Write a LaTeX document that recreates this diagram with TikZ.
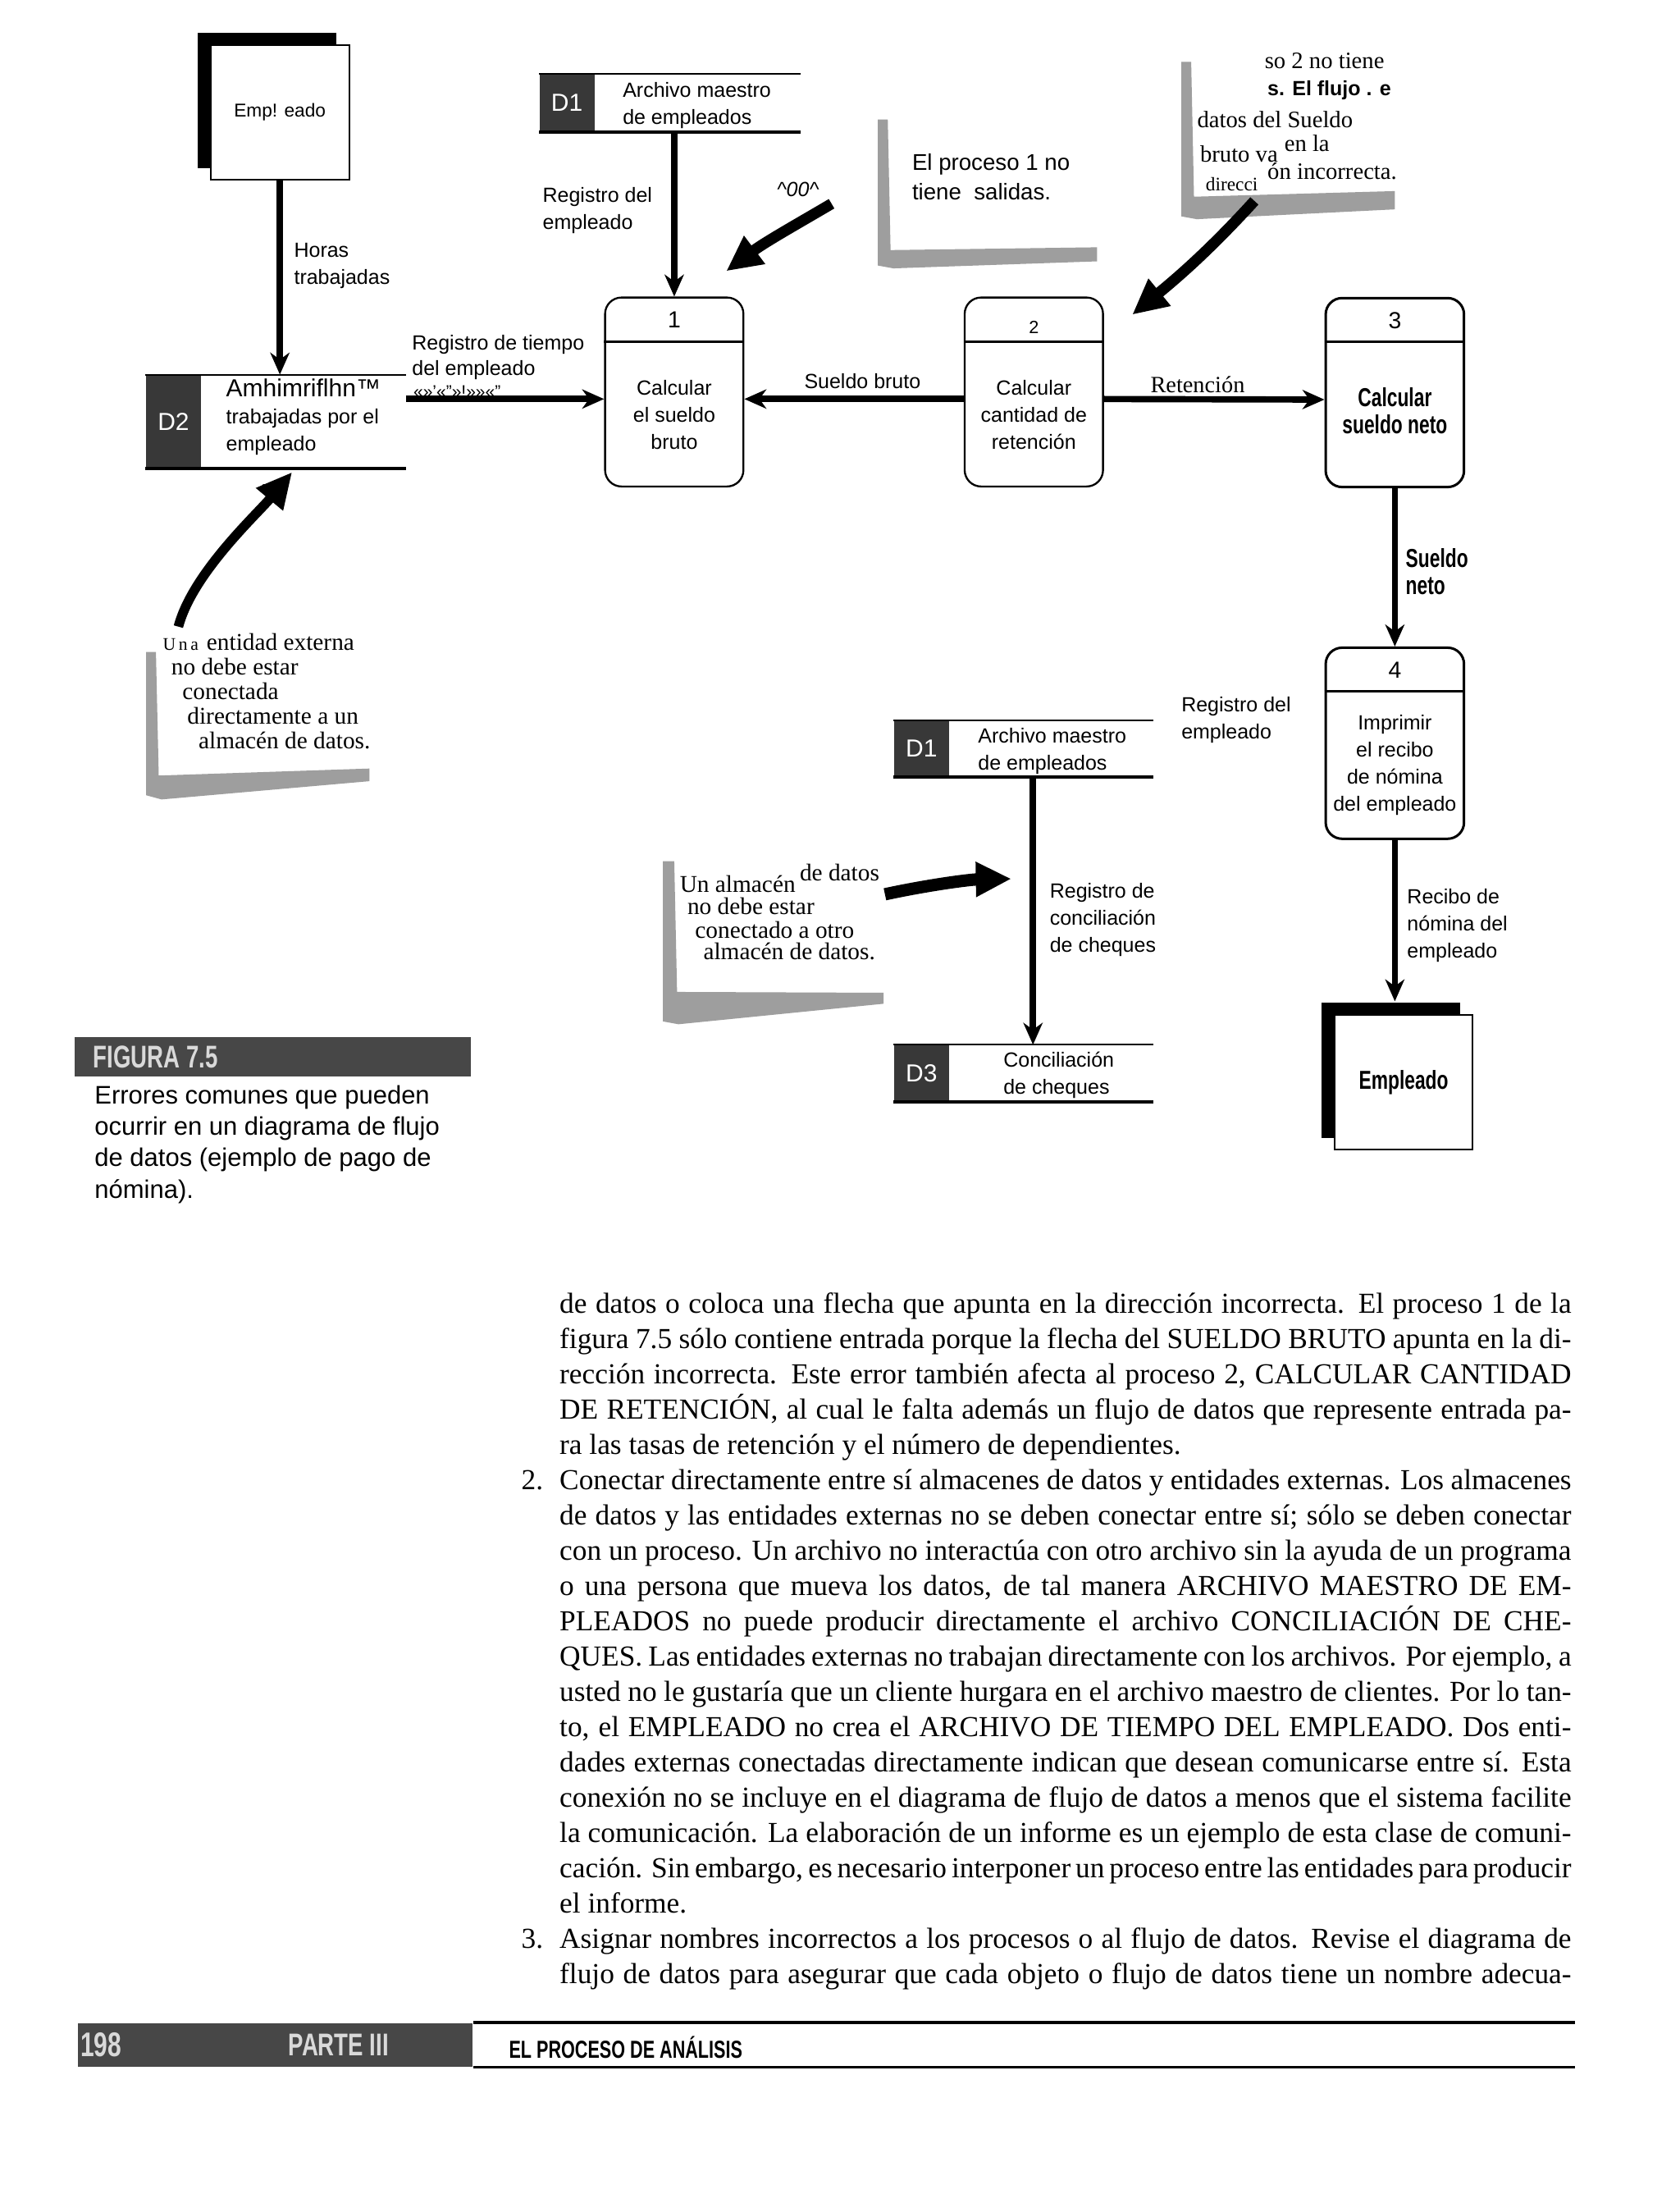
\documentclass[tikz,border=0pt]{standalone}
\usepackage{fontspec}
\setmainfont{Liberation Serif}
\setsansfont{Liberation Sans}
\newfontfamily\condsans[FakeStretch=0.72]{Liberation Sans}
\usetikzlibrary{arrows.meta, positioning, calc, shadows}

\newlength{\px}
\setlength{\px}{0.5137pt}
\newcommand{\jline}[1]{\hbox to 370pt{#1}}
\newcommand{\pline}[1]{\hbox{#1}}

\begin{document}
\begin{tikzpicture}[
    x=0.5137pt, y=-0.5137pt,
    flow/.style={line width=2.3pt, -{Stealth[length=8pt, width=7pt, inset=2.5pt]}},
    pointer/.style={line width=#1, -{Triangle[length=13pt, width=12pt]}},
    pointer/.default=4pt,
    entity/.style={draw, line width=0.6pt, fill=white, minimum width=98.5\px, minimum height=96\px, inner sep=0pt,
        general shadow={fill=black, shadow xshift=-9\px, shadow yshift=8.5\px}},
    proc/.style={draw, line width=0.7pt, rounded corners=6pt, minimum width=98.5\px, minimum height=134.5\px, inner sep=0pt},
    procnum/.style={font=\sffamily\fontsize{8.5}{8.5}\selectfont, inner sep=0pt},
    proctxt/.style={font=\sffamily\fontsize{7.5}{9.9}\selectfont, align=center, inner sep=0pt},
    storeid/.style={fill=black!78, text=white, font=\sffamily\fontsize{9}{9}\selectfont, minimum width=39\px, inner sep=0pt},
    storeline/.style={line width=0.6pt},
    storebase/.style={line width=1.3pt},
    lbl/.style={font=\sffamily\fontsize{7.5}{9.9}\selectfont, align=left, inner sep=0pt},
    boldlbl/.style={font=\condsans\bfseries\fontsize{9.5}{9.9}\selectfont, align=center, inner sep=0pt},
    note/.style={font=\fontsize{8.8}{8.8}\selectfont, anchor=base west, inner sep=0pt},
    halftone/.style={fill=black!38},
    bar/.style={fill=black!72, inner sep=0pt, anchor=north west},
    bartxt/.style={font=\condsans\bfseries\fontsize{11.5}{11.5}\selectfont, text=white!85!black, anchor=west, inner sep=0pt},
]

\path[use as bounding box, fill=white] (0,0) rectangle (1196,1568);

% ========== ENTITIES ==========
\node[entity] (emp1) at (199.25,80) {\sffamily\fontsize{6.8}{6.8}\selectfont Emp! eado};
\node[entity] (emp2) at (999.25,770.25) {\condsans\bfseries\fontsize{9.5}{9.5}\selectfont Empleado};

% ========== DATA STORES ==========
\node[storeid, minimum height=66\px] (d2id) at (123.5,300) {D2};
\coordinate (d2end) at (289,0);
\draw[storeline] (d2id.north west) -- (d2id.north west -| d2end);
\draw[storebase] (d2id.south west) -- (d2id.south west -| d2end);
\node[lbl, anchor=west] (d2txt) at (160.6,297) {{\fontsize{9}{9.9}\selectfont Amhimriflhn™}\\trabajadas por el\\empleado};
\node[font=\sffamily\bfseries\fontsize{6.5}{6.5}\selectfont, inner sep=0pt] (d2junk) at (194,346) {«ai};

\node[storeid, minimum height=40.5\px] (d1tid) at (403.6,73.25) {D1};
\coordinate (d1tend) at (570,0);
\draw[storeline] (d1tid.north west) -- (d1tid.north west -| d1tend);
\draw[storebase] (d1tid.south west) -- (d1tid.south west -| d1tend);
\node[lbl, anchor=west] (d1ttxt) at (443,75.3) {Archivo maestro\\de empleados};

\node[storeid, minimum height=39.5\px] (d1bid) at (656,532.75) {D1};
\coordinate (d1bend) at (821,0);
\draw[storeline] (d1bid.north west) -- (d1bid.north west -| d1bend);
\draw[storebase] (d1bid.south west) -- (d1bid.south west -| d1bend);
\node[lbl, anchor=west] (d1btxt) at (696,534.8) {Archivo maestro\\de empleados};

\node[storeid, minimum height=40\px] (d3id) at (656,764) {D3};
\draw[storeline] (d3id.north west) -- (d3id.north west -| d1bend);
\draw[storebase] (d3id.south west) -- (d3id.south west -| d1bend);
\node[lbl, anchor=west] (d3txt) at (714,765.5) {Conciliación\\de cheques};

% ========== PROCESSES ==========
\node[proc] (p1) at (480,279) {};
\draw[line width=0.9pt] ([yshift=-32\px]p1.north west) -- ([yshift=-32\px]p1.north east);
\node[procnum] (p1num) at ([yshift=-16.5\px]p1.north) {1};
\node[proctxt] (p1txt) at ([yshift=-16.4\px]p1.center) {Calcular\\el sueldo\\bruto};

\node[proc] (p2) at (736,279) {};
\draw[line width=0.9pt] ([yshift=-32\px]p2.north west) -- ([yshift=-32\px]p2.north east);
\node[procnum, font=\sffamily\fontsize{6.5}{6.5}\selectfont] (p2num) at ([yshift=-22\px]p2.north) {2};
\node[proctxt] (p2txt) at ([yshift=-16\px]p2.center) {Calcular\\cantidad de\\retención};

\node[proc, line width=0.9pt] (p3) at (993,279.4) {};
\draw[line width=1pt] ([yshift=-32\px]p3.north west) -- ([yshift=-32\px]p3.north east);
\node[procnum] (p3num) at ([yshift=-17\px]p3.north) {3};
\node[boldlbl] (p3txt) at ([yshift=-13.2\px]p3.center) {Calcular\\sueldo neto};

\node[proc, line width=0.9pt, minimum height=136\px] (p4) at (993,529) {};
\draw[line width=1pt] ([yshift=-32\px]p4.north west) -- ([yshift=-32\px]p4.north east);
\node[procnum] (p4num) at ([yshift=-17\px]p4.north) {4};
\node[proctxt] (p4txt) at ([yshift=-15.4\px]p4.center) {Imprimir\\el recibo\\de nómina\\del empleado};

% ========== DATA FLOWS ==========
\draw[flow] (emp1.south) -- (emp1.south |- d2id.north);
\node[lbl, anchor=west] (lhoras) at (209,189) {Horas\\trabajadas};

\draw[flow] ([yshift=-5\px]p1.west -| d2end) -- ([yshift=-5\px]p1.west);
\node[lbl, anchor=west, font=\sffamily\fontsize{7.5}{9.2}\selectfont] (ltiempo) at (293,254.5) {Registro de tiempo\\del empleado};
\node[lbl, anchor=west, font=\sffamily\fontsize{6.3}{6.3}\selectfont] (ljunk) at (294,278.5) {«»'«"»!»»«"};

\draw[flow] (p1.north |- d1tid.south) -- (p1.north);
\node[lbl, anchor=west] (lregemp) at (386,150) {Registro del\\empleado};

\draw[flow] ([yshift=-5\px]p2.west) -- ([yshift=-5\px]p1.east);
\node[lbl] (lbruto) at (614,271) {Sueldo bruto};

\draw[flow] ([yshift=-5\px]p2.east) -- ([yshift=-5\px]p3.west);
\node[font=\fontsize{8.5}{8.5}\selectfont, inner sep=0pt] (lret) at (852.6,273.5) {Retención};

\draw[flow] (p3.south) -- (p4.north);
\node[boldlbl, align=left, anchor=west] (lneto) at (1000.4,407) {Sueldo\\neto};

\node[lbl, anchor=west] (lregemp2) at (840.7,512.5) {Registro del\\empleado};

\draw[flow] (p4.south) -- ($(p4.south |- emp2.north)+(0,-9)$);
\node[lbl, anchor=west] (lrecibo) at (1001.4,658.5) {Recibo de\\nómina del\\empleado};

\draw[flow] ([xshift=59.5\px]d1bid.south east) -- ([xshift=59.5\px]d3id.north east);
\node[lbl, anchor=west] (lconc) at (747,654.7) {Registro de\\conciliación\\de cheques};

% ========== NOTE CARDS ==========
\fill[halftone] (104,464) -- (111,464) -- (113,552) -- (263,547) -- (263,556) -- (115,569) -- (104,566) -- cycle;
\node[note] (n1a) at (115.6,463) {{\fontsize{6.5}{6.5}\selectfont U\,n\,a}\hspace{3pt}entidad externa};
\node[note] (n1b) at (121.6,480.6) {no debe estar};
\node[note] (n1c) at (129.5,498) {conectada};
\node[note] (n1d) at (133,515.6) {directamente a un};
\node[note] (n1e) at (141,533) {almacén de datos.};
\draw[pointer=3.5pt] (127,446) .. controls (137,408) and (183,366) .. (208,336);

\fill[halftone] (625,85) -- (632,85) -- (634,178) -- (781,176) -- (781,186) -- (636,191) -- (625,189) -- cycle;
\node[note, font=\sffamily\fontsize{8.3}{8.3}\selectfont] (n2a) at (649,121) {El proceso 1 no};
\node[note, font=\sffamily\fontsize{8.3}{8.3}\selectfont] (n2b) at (649,142) {tiene\ \ salidas.};
\node[font=\sffamily\itshape\fontsize{7.5}{7.5}\selectfont, inner sep=0pt] (n2junk) at (568,135) {\textasciicircum 00\textasciicircum};
\draw[pointer] (592,145) .. controls (570,158) and (545,172) .. (517,193);

\fill[halftone] (841,44) -- (848,44) -- (850,140) -- (993,136) -- (993,149) -- (852,156) -- (841,154) -- cycle;
\node[note, font=\fontsize{8.6}{8.6}\selectfont] (n3a) at (900,48.6) {so 2 no tiene};
\node[note, font=\sffamily\bfseries\fontsize{7.5}{7.5}\selectfont] (n3b) at (902,68) {s. El flujo . e};
\node[note, font=\fontsize{8.6}{8.6}\selectfont] (n3c) at (852,91) {datos del Sueldo};
\node[note, font=\fontsize{8.6}{8.6}\selectfont] (n3d) at (854,115.4) {bruto va};
\node[note, font=\fontsize{8.6}{8.6}\selectfont] (n3e) at (914,107.5) {en la};
\node[note, font=\fontsize{7}{7}\selectfont] (n3f) at (858,135.5) {direcci};
\node[note, font=\fontsize{8.6}{8.6}\selectfont] (n3g) at (902,127.8) {ón incorrecta.};
\draw[pointer] (893,143) .. controls (872,166) and (850,188) .. (806,224);

\fill[halftone] (472,613) -- (480,613) -- (482,706) -- (629,706.6) -- (629,714.4) -- (483,729) -- (472,727) -- cycle;
\node[note] (n4a) at (483.6,635) {Un almacén};
\node[note] (n4b) at (569,627) {de datos};
\node[note] (n4c) at (489,651) {no debe estar};
\node[note] (n4d) at (494.5,667.7) {conectado a otro};
\node[note] (n4e) at (500.4,683) {almacén de datos.};
\draw[pointer=4.5pt] (630,636.5) .. controls (660,630) and (690,626) .. (720,625.5);

% ========== CAPTION ==========
\node[bar, minimum width=282\px, minimum height=28.4\px] (figbar) at (53,737.6) {};
\node[bartxt] (figtxt) at ([xshift=13\px]figbar.west) {FIGURA 7.5};
\node[anchor=base west, inner sep=0pt, font=\sffamily\fontsize{9.3}{11.5}\selectfont] (caption) at (67,785.5)
    {\begin{tabular}[t]{@{}l@{}}Errores comunes que pueden\\ocurrir en un diagrama de flujo\\de datos (ejemplo de pago de\\nómina).\end{tabular}};

% ========== BODY TEXT ==========
\node[anchor=base west, inner sep=0pt] (body) at (398,934.5) {\begin{minipage}[t]{370pt}
\fontsize{10.6}{12.9}\selectfont
\jline{de datos o coloca una flecha que apunta en la dirección incorrecta. El proceso 1 de la}
\jline{figura 7.5 sólo contiene entrada porque la flecha del SUELDO BRUTO apunta en la di-}
\jline{rección incorrecta. Este error también afecta al proceso 2, CALCULAR CANTIDAD}
\jline{DE RETENCIÓN, al cual le falta además un flujo de datos que represente entrada pa-}
\pline{ra las tasas de retención y el número de dependientes.}
\jline{\llap{2.\hspace{6pt}}Conectar directamente entre sí almacenes de datos y entidades externas. Los almacenes}
\jline{de datos y las entidades externas no se deben conectar entre sí; sólo se deben conectar}
\jline{con un proceso. Un archivo no interactúa con otro archivo sin la ayuda de un programa}
\jline{o una persona que mueva los datos, de tal manera ARCHIVO MAESTRO DE EM-}
\jline{PLEADOS no puede producir directamente el archivo CONCILIACIÓN DE CHE-}
\jline{QUES. Las entidades externas no trabajan directamente con los archivos. Por ejemplo, a}
\jline{usted no le gustaría que un cliente hurgara en el archivo maestro de clientes. Por lo tan-}
\jline{to, el EMPLEADO no crea el ARCHIVO DE TIEMPO DEL EMPLEADO. Dos enti-}
\jline{dades externas conectadas directamente indican que desean comunicarse entre sí. Esta}
\jline{conexión no se incluye en el diagrama de flujo de datos a menos que el sistema facilite}
\jline{la comunicación. La elaboración de un informe es un ejemplo de esta clase de comuni-}
\jline{cación. Sin embargo, es necesario interponer un proceso entre las entidades para producir}
\pline{el informe.}
\jline{\llap{3.\hspace{6pt}}Asignar nombres incorrectos a los procesos o al flujo de datos. Revise el diagrama de}
\jline{flujo de datos para asegurar que cada objeto o flujo de datos tiene un nombre adecua-}
\end{minipage}};

% ========== FOOTER ==========
\node[bar, minimum width=281\px, minimum height=31\px] (footbar) at (55,1439.5) {};
\node[bartxt, font=\condsans\bfseries\fontsize{12.5}{12.5}\selectfont] (pagenum) at ([xshift=2\px]footbar.west) {198};
\node[bartxt] (parttxt) at ([xshift=150\px]footbar.west) {PARTE III};
\coordinate (footend) at (1121,0);
\draw[line width=1.3pt] (footbar.north east) -- (footbar.north east -| footend);
\draw[line width=0.8pt] (footbar.south east) -- (footbar.south east -| footend);
\node[anchor=west, inner sep=0pt, font=\condsans\bfseries\fontsize{9}{9}\selectfont] (foottxt) at (362,1457) {EL PROCESO DE ANÁLISIS};

\end{tikzpicture}
\end{document}
